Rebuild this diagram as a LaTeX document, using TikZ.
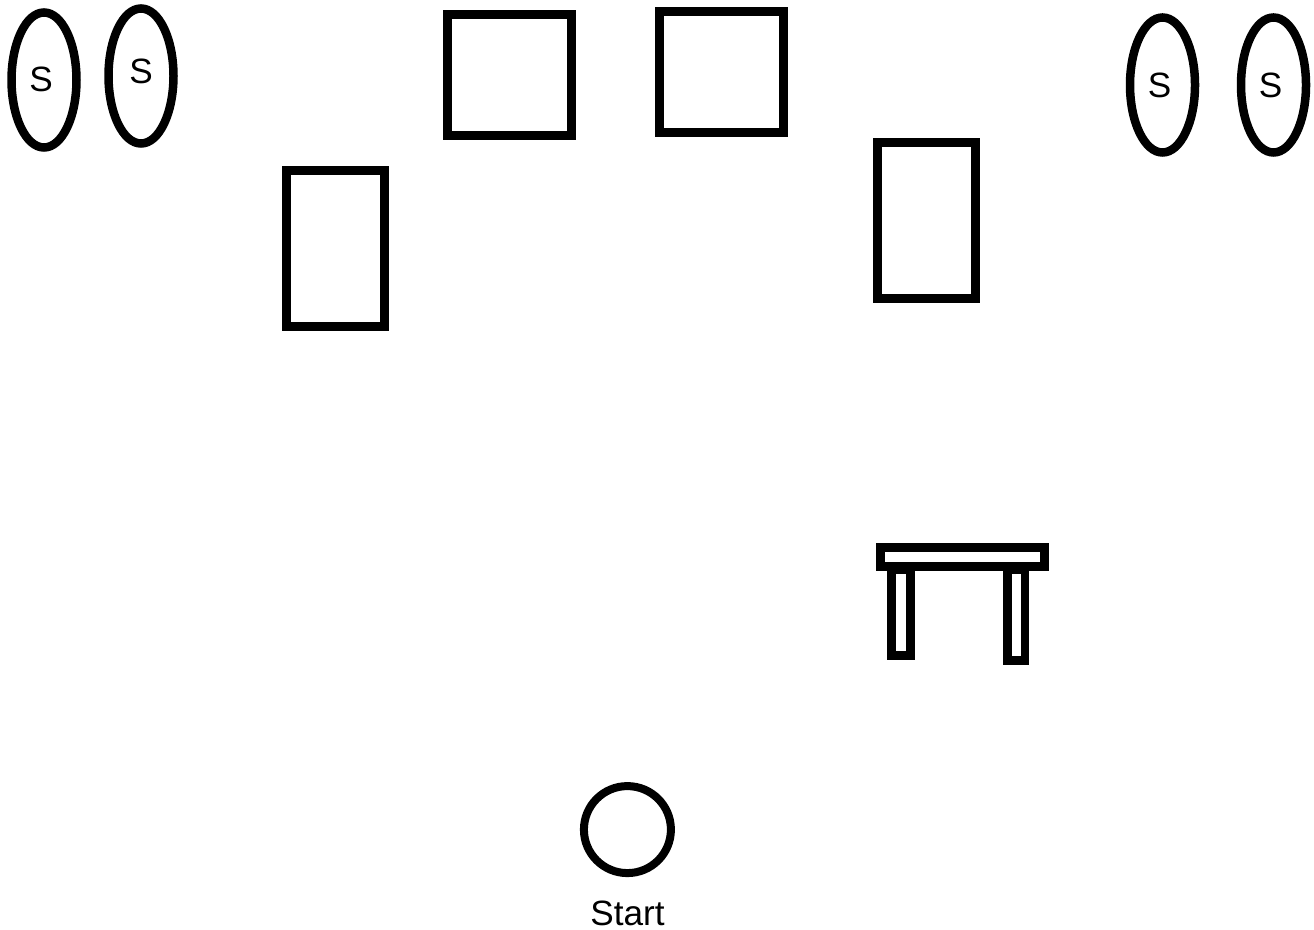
\documentclass[tikz,border=0pt]{standalone}
\usepackage{fontspec}
\setmainfont{Liberation Sans}
\usetikzlibrary{
    positioning,
    shapes.geometric
}

\begin{document}

\begin{tikzpicture}
[
    font=\fontsize{20}{24}\selectfont,
    seat/.style={
        ellipse,
        draw=black,
        line width=0.17cm,
        inner sep=0pt,
        minimum width=1.3cm,
        minimum height=2.7cm
    },
    letter/.style={
        inner sep=0pt
    },
    square/.style={
        rectangle,
        draw=black,
        line width=0.18cm,
        minimum width=2.48cm,
        minimum height=2.42cm
    },
    tall/.style={
        rectangle,
        draw=black,
        line width=0.18cm,
        minimum width=1.96cm,
        minimum height=3.12cm
    },
    leg/.style={
        rectangle,
        draw=black,
        line width=0.17cm,
        inner sep=0pt
    }
]

\useasboundingbox (0,0) rectangle (26.28,-18.6);


% =====================
% LEFT SEATS
% =====================

\node[
seat
]
(seatA)
at (0.88,-1.6)
{};


\node[
seat,
right=0.47cm of seatA,
yshift=0.08cm
]
(seatB)
{};


\node[
letter,
xshift=-0.06cm,
yshift=0.02cm
]
(letterA)
at (seatA)
{S};


\node[
letter,
yshift=0.1cm
]
(letterB)
at (seatB)
{S};



% =====================
% BOXES
% =====================

\node[
square,
right=5.3cm of seatB,
yshift=0.02cm
]
(boxA)
{};


\node[
square,
right=1.58cm of boxA,
yshift=0.06cm
]
(boxB)
{};


\node[
tall,
below left=0.52cm and 1.08cm of boxA
]
(tallA)
{};


\node[
tall,
below right=0.02cm and 1.7cm of boxB
]
(tallB)
{};



% =====================
% RIGHT SEATS
% =====================

\node[
seat,
right=6.76cm of boxB,
yshift=-0.26cm
]
(seatC)
{};


\node[
seat,
right=0.75cm of seatC
]
(seatD)
{};


\node[
letter,
xshift=-0.06cm
]
(letterC)
at (seatC)
{S};


\node[
letter,
xshift=-0.06cm
]
(letterD)
at (seatD)
{S};



% =====================
% TABLE
% =====================

\node[
rectangle,
draw=black,
line width=0.18cm,
minimum width=3.27cm,
minimum height=0.38cm,
inner sep=0pt,
below=4.8cm of tallB,
xshift=0.72cm
]
(tabletop)
{};


\node[
leg,
minimum width=0.38cm,
minimum height=1.72cm,
below right=-0.12cm and 0.22cm of tabletop.south west
]
(legA)
{};


\node[
leg,
minimum width=0.35cm,
minimum height=1.82cm,
below right=-0.12cm and 2.54cm of tabletop.south west
]
(legB)
{};



% =====================
% START
% =====================

\node[
circle,
draw=black,
line width=0.16cm,
inner sep=0pt,
minimum size=1.74cm,
below left=4.5cm and 4.3cm of tabletop
]
(startspot)
{};


\node[
letter,
below=0.47cm of startspot
]
(startlabel)
{Start};


\end{tikzpicture}

\end{document}
